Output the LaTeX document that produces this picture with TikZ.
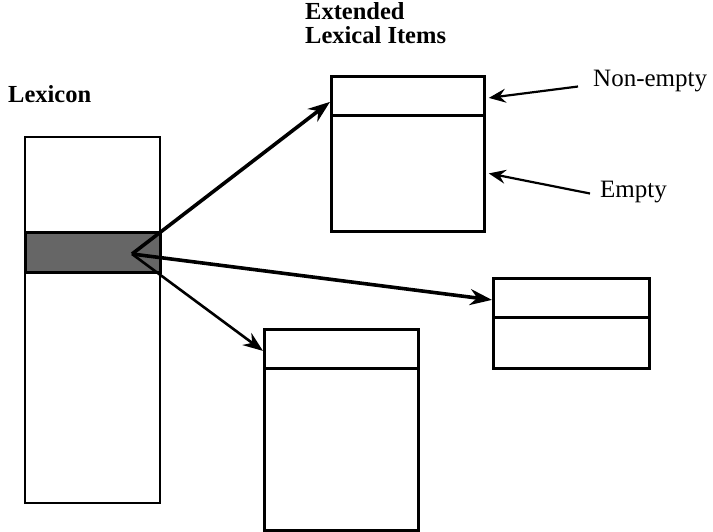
\documentclass[tikz,border=0pt]{standalone}
\usepackage{fontspec}
\setmainfont{Liberation Serif}
\usepackage{tikz}
\usetikzlibrary{arrows.meta,positioning,calc}

\begin{document}
\begin{tikzpicture}[
    x=1pt, y=-1pt,
    head/.style={font=\fontsize{24.5}{24}\selectfont\bfseries, inner sep=0pt},
    lbl/.style={font=\fontsize{25}{28}\selectfont, inner sep=0pt},
    cell/.style={draw, rectangle, inner sep=0pt, line width=2.8pt, anchor=north west},
    bigarrow/.style={line width=3.6pt, -{Stealth[length=22pt, width=16pt]}},
    smallarrow/.style={line width=2.2pt, -{Stealth[length=17pt, width=14pt, inset=6pt]}}
]
\useasboundingbox (0,0) rectangle (713,532);

% Labels
\node[head, anchor=base west] (lex) at (8,103) {Lexicon};
\node[head, anchor=north west, align=left] (eli) at (305,2) {Extended\\Lexical Items};

% Lexicon with the selected entry
\node[draw, line width=1.8pt, rectangle, inner sep=0pt, anchor=north west,
      minimum width=135pt, minimum height=366pt] (lexbox) at (24,136) {};
\node[draw, line width=3.4pt, fill=black!60, rectangle, inner sep=0pt, anchor=north west,
      minimum width=135pt, minimum height=40pt] (entry) at (24,231) {};
\coordinate (src) at (132,254);

% Extended lexical items
\node[cell, minimum width=153pt, minimum height=39pt] (topH) at (330,75) {};
\node[cell, minimum width=153pt, minimum height=116pt] (topB) at (330,114) {};

\node[cell, minimum width=156pt, minimum height=39pt] (rgtH) at (492,277) {};
\node[cell, minimum width=156pt, minimum height=51pt] (rgtB) at (492,316) {};

\node[cell, minimum width=154pt, minimum height=39pt] (botH) at (263,328) {};
\node[cell, minimum width=154pt, minimum height=162pt] (botB) at (263,367) {};

% Pointers from the entry
\draw[bigarrow] (src) -- ([yshift=-6pt]topH.west);
\draw[bigarrow] (src) -- ([yshift=-2pt]rgtH.west);
\draw[line width=2.6pt, -{Stealth[length=20pt, width=15pt]}] (src) -- ([yshift=-2pt]botH.west);

% Annotations
\node[lbl, anchor=base west] (nonempty) at (593,87) {Non-empty};
\node[lbl, anchor=base west] (empty) at (600,198) {Empty};
\draw[smallarrow] ([xshift=-15pt,yshift=-5pt]nonempty.west) -- ([xshift=3pt,yshift=-2pt]topH.east);
\draw[smallarrow] ([xshift=-10pt,yshift=-1pt]empty.west) -- ([xshift=3pt]topB.east);
\end{tikzpicture}
\end{document}
